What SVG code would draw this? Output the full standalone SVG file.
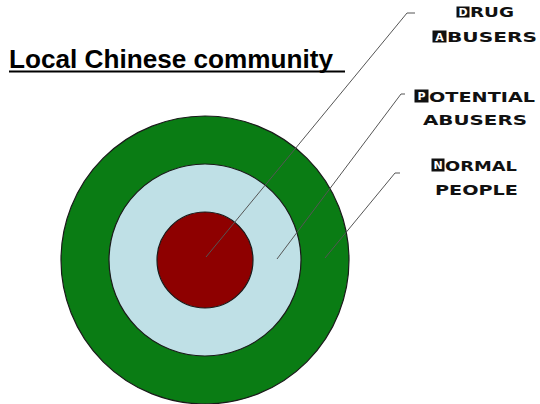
<svg xmlns="http://www.w3.org/2000/svg" width="540" height="404" viewBox="0 0 540 404">
<style>
.ring{stroke:#1a1a1a;stroke-width:1.2}
.lbl{font-family:"DejaVu Sans",sans-serif;font-weight:bold;font-size:14.5px;fill:#111}
.ini{fill:#111;stroke:#111;stroke-width:1}
.inil{font-family:"DejaVu Sans",sans-serif;font-weight:bold;font-size:11px;fill:#fff}
.conn{stroke:#555;stroke-width:1;fill:none}
</style>
<rect width="540" height="404" fill="#fff"/>
<g id="title">
<text x="9" y="68" font-family="Liberation Sans, Arial, sans-serif" font-weight="bold" font-size="26" textLength="324" lengthAdjust="spacingAndGlyphs" fill="#000">Local Chinese community</text>
<line x1="9" y1="71.5" x2="345" y2="71.5" stroke="#000" stroke-width="2"/>
</g>
<g id="normal-ring"><circle class="ring" cx="205" cy="260" r="144" fill="#0a7c14"/></g>
<g id="potential-ring"><circle class="ring" cx="205" cy="260" r="96" fill="#bfe0e6"/></g>
<g id="drug-core"><circle class="ring" cx="205" cy="260" r="48" fill="#8e0000"/></g>
<g id="connectors">
<polyline class="conn" points="206,257 407,13 415,13"/>
<polyline class="conn" points="277,259 401,94 405,94"/>
<polyline class="conn" points="325,258 395,173 400,173"/>
</g>
<g id="label-drug">
<rect class="ini" x="457" y="7" width="12" height="10"/>
<text class="inil" x="463" y="16" text-anchor="middle">D</text>
<text class="lbl" x="470" y="17" textLength="44" lengthAdjust="spacingAndGlyphs">RUG</text>
<rect class="ini" x="433" y="31" width="13" height="11"/>
<text class="inil" x="439.5" y="41" text-anchor="middle">A</text>
<text class="lbl" x="447" y="42" textLength="90" lengthAdjust="spacingAndGlyphs">BUSERS</text>
</g>
<g id="label-potential">
<rect class="ini" x="415" y="90" width="13" height="12"/>
<text class="inil" x="421.5" y="100" text-anchor="middle">P</text>
<text class="lbl" x="429" y="102" textLength="106" lengthAdjust="spacingAndGlyphs">OTENTIAL</text>
<text class="lbl" x="423" y="125" textLength="104" lengthAdjust="spacingAndGlyphs">ABUSERS</text>
</g>
<g id="label-normal">
<rect class="ini" x="432" y="159" width="12" height="12"/>
<text class="inil" x="438" y="169" text-anchor="middle">N</text>
<text class="lbl" x="445" y="171" textLength="72" lengthAdjust="spacingAndGlyphs">ORMAL</text>
<text class="lbl" x="435" y="195" textLength="83" lengthAdjust="spacingAndGlyphs">PEOPLE</text>
</g>
</svg>
